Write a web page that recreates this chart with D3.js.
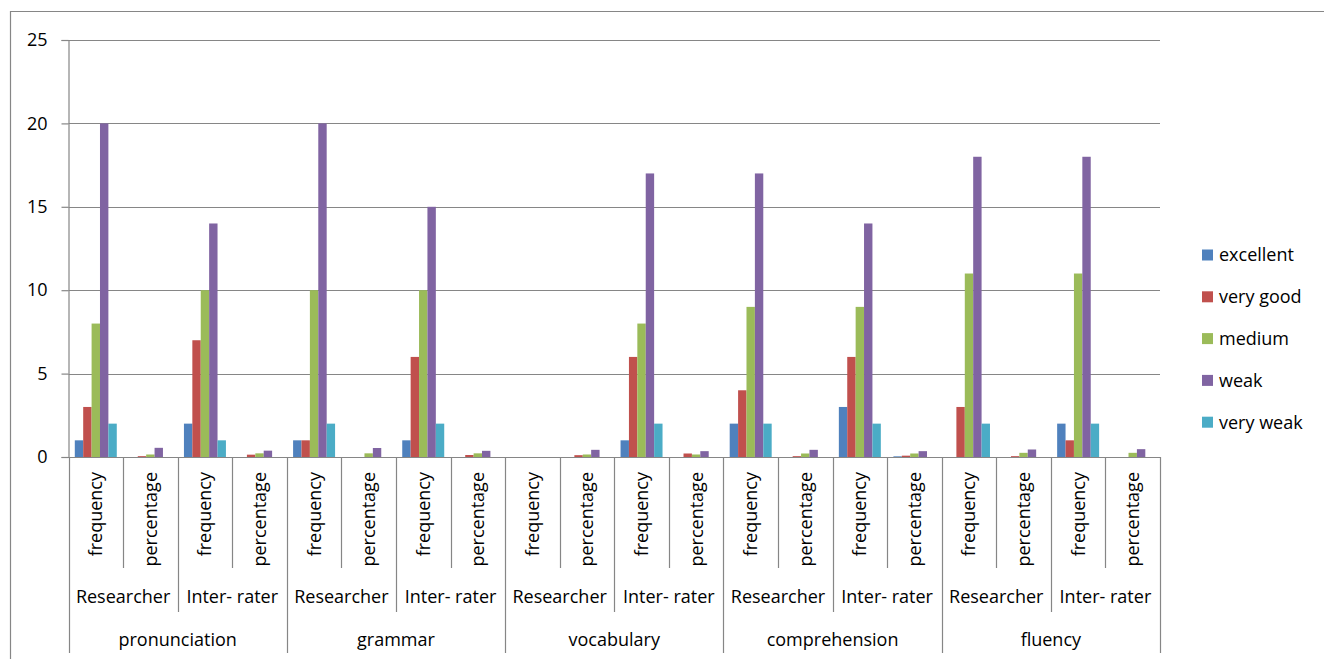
<!DOCTYPE html>
<html>
<head>
<meta charset="utf-8">
<script src="https://cdn.jsdelivr.net/npm/d3@7"></script>
<style>
  html, body { margin: 0; padding: 0; background: #fff; }
  svg text { font-family: "Open Sans", "Noto Sans", sans-serif; fill: #000; }
</style>
</head>
<body>
<svg id="chart" width="1324" height="659"></svg>
<script>
// Skills, raters and measures that make up the three-level category axis
const skills = ["pronunciation", "grammar", "vocabulary", "comprehension", "fluency"];
const raters = ["Researcher", "Inter- rater"];
const measures = ["frequency", "percentage"];

// Rating levels (series) and their colours
const levels = ["excellent", "very good", "medium", "weak", "very weak"];
const levelColors = ["#4F81BD", "#C0504D", "#9BBB59", "#8064A2", "#4BACC6"];

// Values per level, one per (skill, rater, measure) group, in axis order
const excellent = [1, 0, 2, 0,   1, 0, 1, 0,     0, 0, 1, 0,     2, 0, 3, 0.04,   0, 0, 2, 0];
const veryGood  = [3, 0.05, 7, 0.14,  1, 0, 6, 0.12,  0, 0.11, 6, 0.21,  4, 0.05, 6, 0.08,  3, 0.05, 1, 0];
const medium    = [8, 0.15, 10, 0.22, 10, 0.22, 10, 0.22, 0, 0.15, 8, 0.15, 9, 0.21, 9, 0.21, 11, 0.25, 11, 0.25];
const weak      = [20, 0.55, 14, 0.38, 20, 0.54, 15, 0.37, 0, 0.43, 17, 0.35, 17, 0.43, 14, 0.35, 18, 0.45, 18, 0.47];
const veryWeak  = [2, 0, 1, 0,   2, 0, 2, 0,     0, 0, 2, 0,     2, 0, 2, 0,     2, 0, 2, 0];
const seriesValues = [excellent, veryGood, medium, weak, veryWeak];

// Value axis ticks
const yTicks = [0, 5, 10, 15, 20, 25];

// ---- layout ----
const svg = d3.select("#chart");
const plot = { left: 68.5, right: 1160, top: 40, bottom: 457 };
const gridColor = "#868686";
const fontSize = 18;

// flattened list of groups along the x axis
const groups = [];
skills.forEach(s => raters.forEach(r => measures.forEach(m => groups.push({ skill: s, rater: r, measure: m, key: s + "|" + r + "|" + m }))));

const x0 = d3.scaleBand().domain(groups.map(g => g.key)).range([plot.left, plot.right]).paddingInner(0).paddingOuter(0);
const x1 = d3.scaleBand().domain(levels).range([0, x0.bandwidth()]).paddingInner(0).paddingOuter(0.75);
const y = d3.scaleLinear().domain([0, 25]).range([plot.bottom, plot.top]);

// outer chart frame (left and top edges visible)
svg.append("path")
  .attr("d", "M10.5,659 L10.5,11.5 L1324,11.5")
  .attr("fill", "none").attr("stroke", gridColor).attr("stroke-width", 1.2);

// horizontal gridlines
svg.append("g").selectAll("line").data(yTicks.filter(t => t > 0)).join("line")
  .attr("x1", plot.left).attr("x2", plot.right)
  .attr("y1", d => Math.round(y(d)) + 0.5).attr("y2", d => Math.round(y(d)) + 0.5)
  .attr("stroke", gridColor).attr("stroke-width", 1.2);

// value axis
const yAxis = d3.axisLeft(y).tickValues(yTicks).tickSize(7).tickPadding(14).tickFormat(d3.format("d"));
const yg = svg.append("g").attr("transform", `translate(${plot.left},0)`).call(yAxis);
yg.select(".domain").attr("stroke", gridColor).attr("stroke-width", 1.2);
yg.selectAll(".tick line").attr("stroke", gridColor).attr("stroke-width", 1.2);
yg.selectAll(".tick text").attr("font-size", fontSize).attr("font-family", "Open Sans");

// bars
const barLayer = svg.append("g");
levels.forEach((lvl, li) => {
  barLayer.append("g").selectAll("rect").data(groups.map((g, gi) => ({ g, v: seriesValues[li][gi] }))).join("rect")
    .attr("x", d => x0(d.g.key) + x1(lvl))
    .attr("width", x1.bandwidth())
    .attr("y", d => y(d.v))
    .attr("height", d => y(0) - y(d.v))
    .attr("fill", levelColors[li]);
});

// category axis line
svg.append("line")
  .attr("x1", plot.left).attr("x2", plot.right)
  .attr("y1", plot.bottom + 0.5).attr("y2", plot.bottom + 0.5)
  .attr("stroke", gridColor).attr("stroke-width", 1.2);

// multi-level category axis: separators
const sepDepth = { measure: 568, rater: 612, skill: 653 };
const boundaries = [];
for (let i = 0; i <= groups.length; i++) {
  let depth;
  if (i % 4 === 0) depth = sepDepth.skill;
  else if (i % 2 === 0) depth = sepDepth.rater;
  else depth = sepDepth.measure;
  const xp = i < groups.length ? x0(groups[i].key) : plot.right;
  boundaries.push({ x: xp, depth });
}
svg.append("g").selectAll("line").data(boundaries).join("line")
  .attr("x1", d => Math.round(d.x) + 0.5).attr("x2", d => Math.round(d.x) + 0.5)
  .attr("y1", plot.bottom).attr("y2", d => d.depth)
  .attr("stroke", gridColor).attr("stroke-width", 1.2);

// level 1: measure labels (rotated)
svg.append("g").selectAll("text").data(groups).join("text")
  .attr("transform", d => `translate(${x0(d.key) + x0.bandwidth() / 2},472) rotate(-90)`)
  .attr("text-anchor", "end")
  .attr("dy", "0.36em")
  .attr("font-size", fontSize)
  .text(d => d.measure);

// level 2: rater labels
const raterGroups = [];
skills.forEach(s => raters.forEach(r => raterGroups.push({ s, r })));
svg.append("g").selectAll("text").data(raterGroups).join("text")
  .attr("x", d => x0(d.s + "|" + d.r + "|" + measures[0]) + x0.bandwidth())
  .attr("y", 597)
  .attr("dy", "0.35em")
  .attr("text-anchor", "middle")
  .attr("font-size", fontSize)
  .text(d => d.r);

// level 3: skill labels
svg.append("g").selectAll("text").data(skills).join("text")
  .attr("x", s => x0(s + "|" + raters[0] + "|" + measures[0]) + x0.bandwidth() * 2)
  .attr("y", 640)
  .attr("dy", "0.35em")
  .attr("text-anchor", "middle")
  .attr("font-size", fontSize)
  .text(s => s);

// legend
const legend = svg.append("g").attr("transform", "translate(1202,255)");
const rowGap = 41.8;
const items = legend.selectAll("g").data(levels).join("g")
  .attr("transform", (d, i) => `translate(0,${i * rowGap})`);
items.append("rect").attr("x", 0).attr("y", -5.5).attr("width", 11).attr("height", 11)
  .attr("fill", (d, i) => levelColors[i]);
items.append("text").attr("x", 17).attr("y", 0).attr("dy", "0.35em")
  .attr("font-size", fontSize).text(d => d);
</script>
</body>
</html>
